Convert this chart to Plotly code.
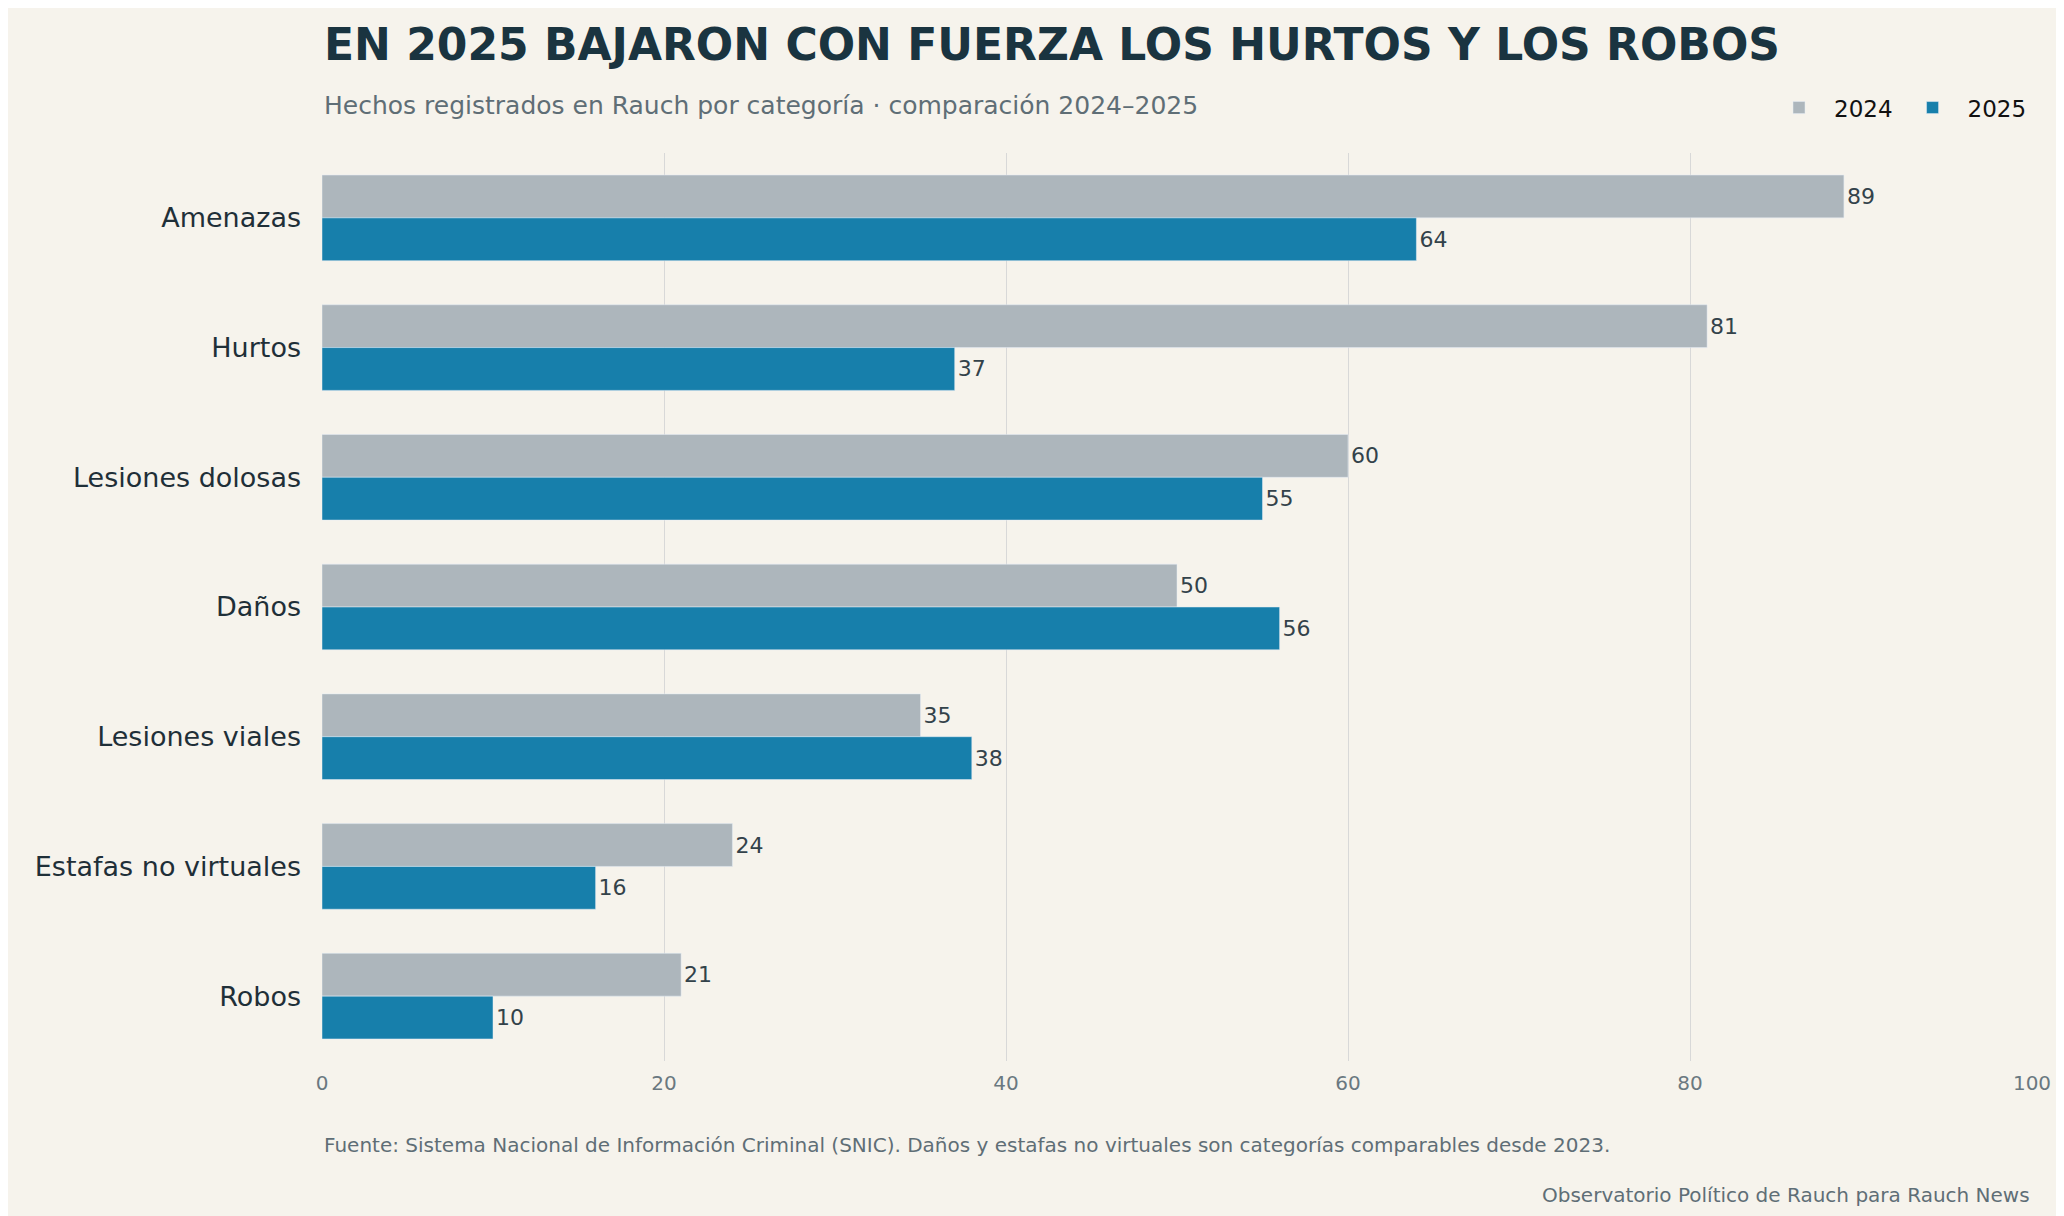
import plotly.graph_objects as go

categorias = ["Amenazas", "Hurtos", "Lesiones dolosas", "Daños", "Lesiones viales",
              "Estafas no virtuales", "Robos"]
valores_2024 = [89, 81, 60, 50, 35, 24, 21]
valores_2025 = [64, 37, 55, 56, 38, 16, 10]

BG = "#f6f3ec"
FONT = "DejaVu Sans"
ph = 908

fig = go.Figure()
for name, vals, color in [("2024", valores_2024, "#adb6bc"), ("2025", valores_2025, "#177fab")]:
    fig.add_trace(go.Bar(
        y=categorias, x=vals, name=name, orientation="h", marker_color=color,
        text=vals, textposition="outside", cliponaxis=False,
        textfont=dict(size=22, color="#33424a", family=FONT),
    ))

fig.update_layout(
    width=2064, height=1216, paper_bgcolor=BG, plot_bgcolor=BG,
    font=dict(family=FONT, color="#1f2f38"),
    margin=dict(l=314, r=40, t=145, b=163),
    barmode="group", bargap=0.34, bargroupgap=0,
    showlegend=True,
    legend=dict(orientation="h", x=1, xanchor="right", y=1.05, yanchor="middle",
                font=dict(size=23, color="#111"), bgcolor="rgba(0,0,0,0)",
                itemwidth=60, traceorder="normal"),
    xaxis=dict(range=[0, 100], dtick=20, showgrid=True, gridcolor="#d8d8d8", gridwidth=1.3,
               zeroline=False, showline=False, tickfont=dict(size=20, color="#6a7880"),
               ticks="", ticklabelstandoff=8),
    yaxis=dict(autorange="reversed", showgrid=False, showline=False, ticks="",
               tickfont=dict(size=27, color="#1f2f38"), ticklabelstandoff=20),
    uniformtext=dict(mode=False),
)
fig.update_traces(textposition="outside")

fig.add_annotation(text="<b>EN 2025 BAJARON CON FUERZA LOS HURTOS Y LOS ROBOS</b>",
                   xref="paper", yref="paper", x=0, y=1 + 108 / ph, xanchor="left", yanchor="middle",
                   showarrow=False, font=dict(size=44, color="#1a3440", family=FONT))
fig.add_annotation(text="Hechos registrados en Rauch por categoría · comparación 2024–2025",
                   xref="paper", yref="paper", x=0, y=1 + 48 / ph, xanchor="left", yanchor="middle",
                   showarrow=False, font=dict(size=25, color="#5f6e76", family=FONT))
fig.add_annotation(text="Fuente: Sistema Nacional de Información Criminal (SNIC). Daños y estafas no virtuales son categorías comparables desde 2023.",
                   xref="paper", yref="paper", x=0, y=-84 / ph, xanchor="left", yanchor="middle",
                   showarrow=False, font=dict(size=20, color="#5f6e76", family=FONT))
fig.add_annotation(text="Observatorio Político de Rauch para Rauch News",
                   xref="paper", yref="paper", x=1, y=-134 / ph, xanchor="right", yanchor="middle",
                   showarrow=False, font=dict(size=20, color="#5f6e76", family=FONT))

fig.write_html("out.html")
